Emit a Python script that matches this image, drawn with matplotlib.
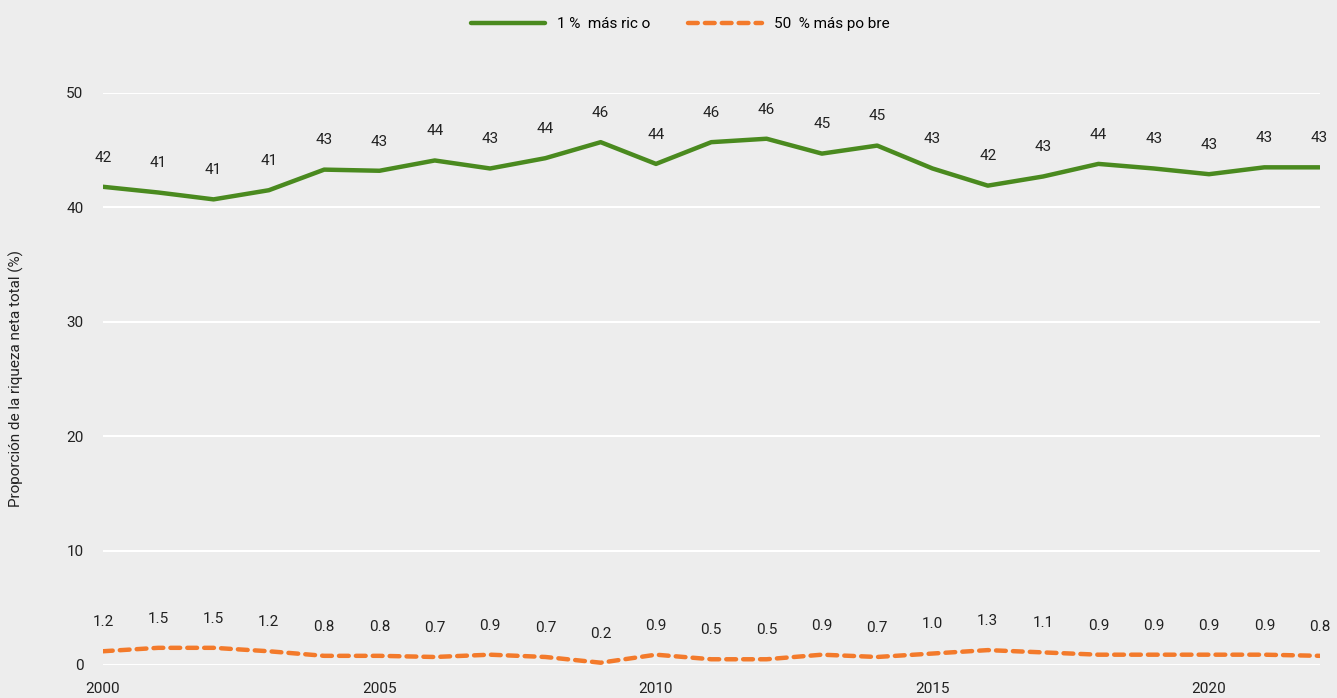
import matplotlib.pyplot as plt
import numpy as np

plt.rcParams['font.family'] = ['Roboto', 'DejaVu Sans']

years = np.arange(2000, 2023)
top1 = [41.8, 41.3, 40.7, 41.5, 43.3, 43.2, 44.1, 43.4, 44.3, 45.7, 43.8, 45.7,
        46.0, 44.7, 45.4, 43.4, 41.9, 42.7, 43.8, 43.4, 42.9, 43.5, 43.5]
top1_labels = ['42', '41', '41', '41', '43', '43', '44', '43', '44', '46', '44', '46',
               '46', '45', '45', '43', '42', '43', '44', '43', '43', '43', '43']
bottom50 = [1.2, 1.5, 1.5, 1.2, 0.8, 0.8, 0.7, 0.9, 0.7, 0.2, 0.9, 0.5,
            0.5, 0.9, 0.7, 1.0, 1.3, 1.1, 0.9, 0.9, 0.9, 0.9, 0.8]
bottom50_labels = ['1.2', '1.5', '1.5', '1.2', '0.8', '0.8', '0.7', '0.9', '0.7', '0.2', '0.9', '0.5',
                   '0.5', '0.9', '0.7', '1.0', '1.3', '1.1', '0.9', '0.9', '0.9', '0.9', '0.8']

green = '#4a8a1f'
orange = '#f37a2b'
bg = '#ededed'
fs = 11

fig = plt.figure(figsize=(13.37, 6.98), dpi=100, facecolor=bg)
ax = fig.add_axes([0.077, 0.0473, 0.91, 0.8195], facecolor=bg)

ax.plot(years, top1, color=green, lw=3.2, solid_capstyle='round', label='1 %  más ric o')
ax.plot(years, bottom50, color=orange, lw=3.2, ls=(0, (2.2, 1.6)), dash_capstyle='round',
        solid_joinstyle='round', dash_joinstyle='round', label='50  % más po bre')

for x, y, t in zip(years, top1, top1_labels):
    ax.annotate(t, (x, y), xytext=(0, 21), textcoords='offset points', ha='center',
                va='center', fontsize=fs, color='#222222', annotation_clip=False)
for x, y, t in zip(years, bottom50, bottom50_labels):
    ax.annotate(t, (x, y), xytext=(0, 21), textcoords='offset points', ha='center',
                va='center', fontsize=fs, color='#222222', annotation_clip=False)

ax.set_xlim(2000, 2022)
ax.set_ylim(0, 50)
ax.set_yticks([0, 10, 20, 30, 40, 50])
ax.set_xticks([2000, 2005, 2010, 2015, 2020])
ax.grid(axis='y', color='white', lw=1.5)
ax.set_axisbelow(True)
for s in ax.spines.values():
    s.set_visible(False)
ax.tick_params(length=0, labelsize=fs, colors='#222222')
ax.tick_params(axis='y', pad=14)
ax.tick_params(axis='x', pad=12)
ax.set_ylabel('Proporción de la riqueza neta total (%)', fontsize=fs, color='#222222', labelpad=30)

fig.legend(loc='upper center', bbox_to_anchor=(0.509, 0.995), ncol=2, frameon=False,
           fontsize=fs, handlelength=4.8, columnspacing=2.5)

fig.savefig('out.png', dpi=100, facecolor=bg)
